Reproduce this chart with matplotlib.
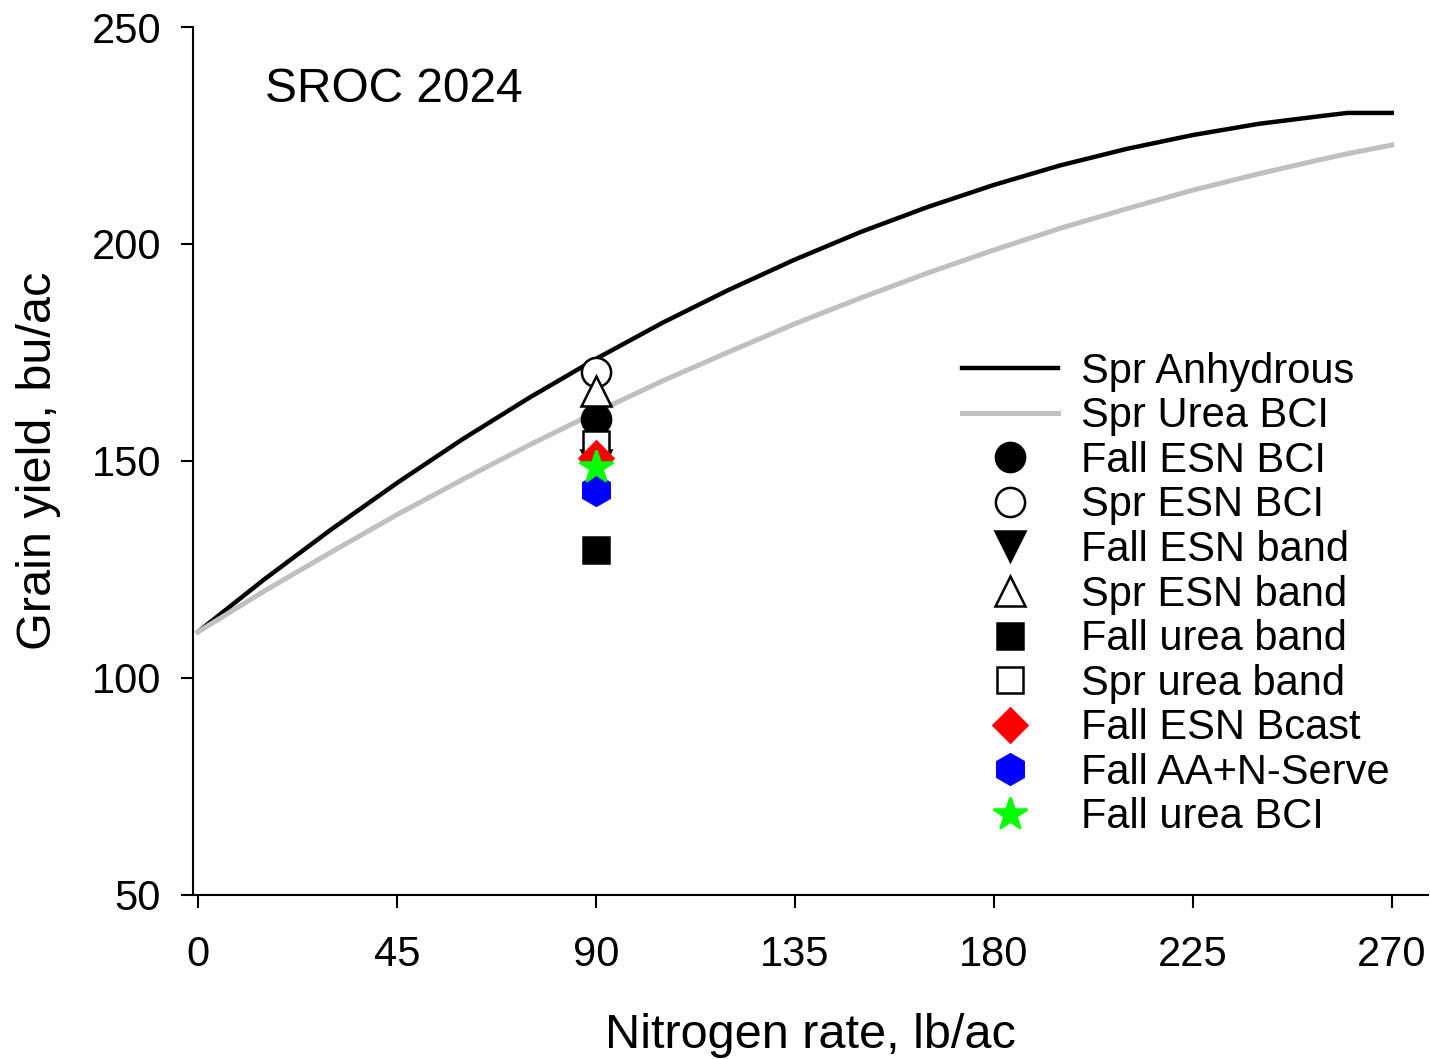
import matplotlib
matplotlib.use("Agg")
import matplotlib.pyplot as plt

plt.rcParams['font.family'] = ['Liberation Sans', 'DejaVu Sans']

# fitted response curves, every 15 lb N
rate = [0, 15, 30, 45, 60, 75, 90, 105, 120, 135, 150, 165, 180, 195,
        210, 225, 240, 255, 260, 270]
spr_anhydrous = [110.6, 122.7, 134.1, 144.9, 155.1, 164.6, 173.5, 181.8,
                 189.4, 196.4, 202.8, 208.5, 213.6, 218.1, 221.9, 225.1,
                 227.7, 229.6, 230.2, 230.2]
spr_urea_bci = [110.6, 120.0, 128.9, 137.6, 145.8, 153.7, 161.2, 168.4,
                175.1, 181.6, 187.6, 193.3, 198.6, 203.6, 208.1, 212.4,
                216.2, 219.7, 220.8, 222.8]

# single-rate treatments at 90 lb N
trt_rate = 90
trt_names = ['Fall ESN BCI', 'Spr ESN BCI', 'Fall ESN band', 'Spr ESN band',
             'Fall urea band', 'Spr urea band', 'Fall ESN Bcast',
             'Fall AA+N-Serve', 'Fall urea BCI']
trt_yield = [159.6, 170.6, 149.0, 166.2, 129.5, 154.0, 150.6, 143.3, 148.7]

styles = {
    'Fall ESN BCI': dict(marker='o', ms=21, mfc='black', mec='black'),
    'Spr ESN BCI': dict(marker='o', ms=21, mfc='white', mec='black'),
    'Fall ESN band': dict(marker='v', ms=22, mfc='black', mec='black'),
    'Spr ESN band': dict(marker='^', ms=22, mfc='white', mec='black'),
    'Fall urea band': dict(marker='s', ms=19, mfc='black', mec='black'),
    'Spr urea band': dict(marker='s', ms=19, mfc='white', mec='black'),
    'Fall ESN Bcast': dict(marker='D', ms=17, mfc='red', mec='red'),
    'Fall AA+N-Serve': dict(marker='h', ms=22, mfc='blue', mec='blue'),
    'Fall urea BCI': dict(marker='*', ms=25, mfc='#00ff00', mec='#00ff00'),
}

fig = plt.figure(figsize=(14.3, 10.59), dpi=100)
ax = fig.add_axes([0.135, 0.155, 0.8636, 0.8195])

ax.plot(rate, spr_anhydrous, color='black', lw=3.2, label='Spr Anhydrous')
ax.plot(rate, spr_urea_bci, color='#c0c0c0', lw=3.6, label='Spr Urea BCI')

for name, y in zip(trt_names, trt_yield):
    ax.plot([trt_rate], [y], ls='none', mew=1.8, label=name, **styles[name])

ax.text(15.2, 235.7, 'SROC 2024', fontsize=34.5, ha='left', va='center')

ax.set_xlim(-1.1, 278.2)
ax.set_ylim(50, 250)
ax.set_xticks([0, 45, 90, 135, 180, 225, 270])
ax.set_yticks([50, 100, 150, 200, 250])
ax.tick_params(labelsize=30, width=1.5, length=9, direction='out')
ax.tick_params(axis='x', pad=20)
ax.tick_params(axis='y', pad=14)
for s in ['top', 'right']:
    ax.spines[s].set_visible(False)
for s in ['left', 'bottom']:
    ax.spines[s].set_linewidth(1.5)

ax.set_xlabel('Nitrogen rate, lb/ac', fontsize=35, labelpad=27)
ax.set_ylabel('Grain yield, bu/ac', fontsize=35, labelpad=22)

ax.legend(loc='upper left', bbox_to_anchor=(0.6727, 0.668),
          bbox_transform=fig.transFigure, frameon=False, fontsize=30,
          handlelength=2.3, handletextpad=0.55, labelspacing=0.11,
          borderpad=0, borderaxespad=0, numpoints=1)

fig.savefig('out.png', dpi=100)
